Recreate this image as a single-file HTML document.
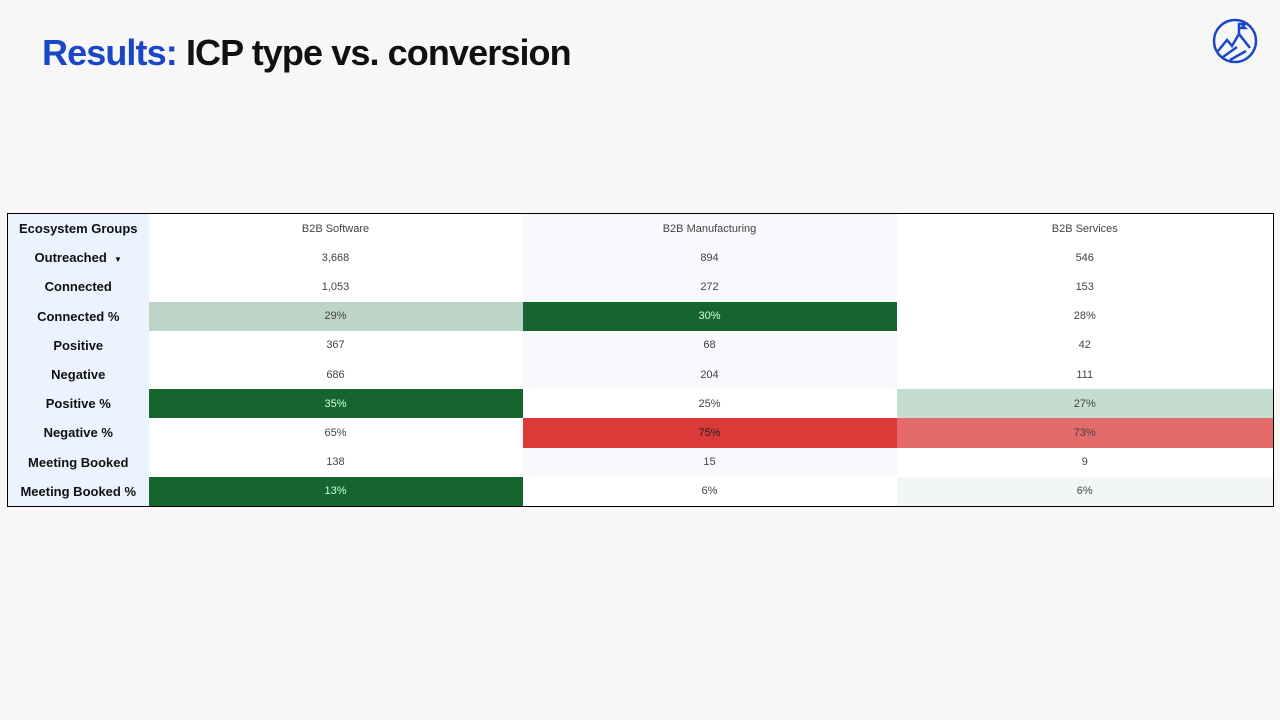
<!DOCTYPE html>
<html><head><meta charset="utf-8"><style>
body{margin:0;width:1280px;height:720px;background:#f7f7f7;position:relative;overflow:hidden;font-family:"Liberation Sans",sans-serif}
h1{position:absolute;left:42px;top:32px;margin:0;font-size:36px;font-weight:bold;color:#111;letter-spacing:-0.9px}
h1 span{color:#1a47c8}
table{position:absolute;left:7px;top:213px;width:1266px;table-layout:fixed;border-collapse:collapse;border:1px solid #000;background:#fff}
td{height:29.2px;padding:0;text-align:center;font-size:11px;color:#444}
td:first-child{background:#eaf3fe;font-weight:bold;font-size:13px;color:#111}
td:nth-child(3){background:#f7f9fc}
.lg{background:#bdd5c6!important}.dg{background:#17652e!important;color:#cfd!important}
.r{background:#dc3a39!important;color:#222!important}.lr{background:#e56a6a!important}
.vg{background:#c5ddcf!important}.xg{background:#f2f7f3!important}
</style></head><body>
<h1><span>Results:</span> ICP type vs. conversion</h1>
<svg style="position:absolute;left:1212px;top:18px" width="46" height="46" viewBox="0 0 46 46" fill="none" stroke="#1a47c8" stroke-width="2.5"><circle cx="23" cy="23" r="21"/><path d="M6 33 L15 22 L20 28 L27 16 L38 30 M11 39 L25 29 M18 42 L34 33"/><path d="M27 16 V6 H33 L31 8 L33 10 H27"/></svg>
<table>
<colgroup><col style="width:141px"><col style="width:374px"><col style="width:374px"><col style="width:377px"></colgroup>
<tr><td>Ecosystem Groups</td><td>B2B Software</td><td>B2B Manufacturing</td><td>B2B Services</td></tr>
<tr><td>Outreached &nbsp;<span style="font-size:8px">▼</span></td><td>3,668</td><td>894</td><td>546</td></tr>
<tr><td>Connected</td><td>1,053</td><td>272</td><td>153</td></tr>
<tr><td>Connected %</td><td class="lg">29%</td><td class="dg">30%</td><td>28%</td></tr>
<tr><td>Positive</td><td>367</td><td>68</td><td>42</td></tr>
<tr><td>Negative</td><td>686</td><td>204</td><td>111</td></tr>
<tr><td>Positive %</td><td class="dg">35%</td><td style="background:#fff">25%</td><td class="vg">27%</td></tr>
<tr><td>Negative %</td><td>65%</td><td class="r">75%</td><td class="lr">73%</td></tr>
<tr><td>Meeting Booked</td><td>138</td><td>15</td><td>9</td></tr>
<tr><td>Meeting Booked %</td><td class="dg">13%</td><td style="background:#fff">6%</td><td class="xg">6%</td></tr>
</table>
</body></html>
